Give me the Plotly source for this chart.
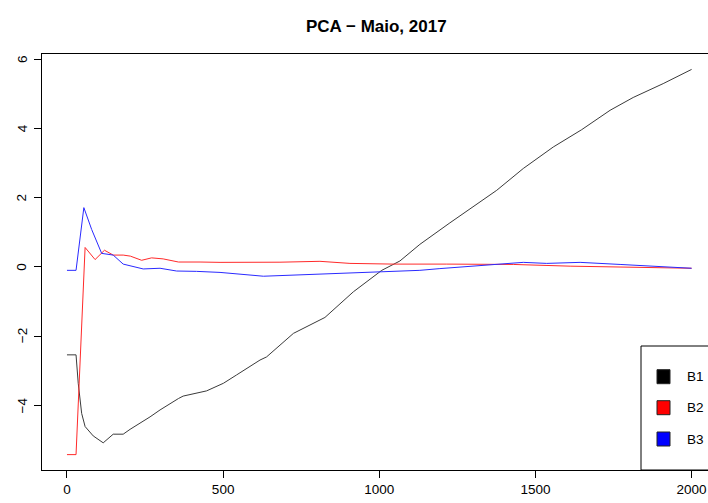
import plotly.graph_objects as go

# Data
b1_x = [0, 29, 36, 47, 58, 84, 116, 148, 180, 202, 266, 298, 357, 372, 447, 501, 543, 618, 639, 725, 826, 917, 1008, 1066, 1130, 1226, 1376, 1461, 1557, 1648, 1739, 1813, 1909, 2000]
b1_y = [-2.54, -2.54, -3.36, -4.23, -4.61, -4.88, -5.08, -4.83, -4.83, -4.69, -4.33, -4.13, -3.80, -3.73, -3.58, -3.36, -3.12, -2.69, -2.60, -1.92, -1.46, -0.72, -0.10, 0.17, 0.65, 1.27, 2.21, 2.84, 3.46, 3.96, 4.52, 4.89, 5.29, 5.70]

b2_x = [0, 29, 58, 90, 120, 148, 180, 203, 239, 271, 308, 357, 426, 490, 682, 810, 906, 1045, 1216, 1429, 1611, 1771, 2000]
b2_y = [-5.42, -5.42, 0.56, 0.21, 0.48, 0.34, 0.34, 0.31, 0.19, 0.26, 0.23, 0.14, 0.14, 0.13, 0.135, 0.16, 0.10, 0.08, 0.08, 0.07, 0.02, 0.0, -0.04]

b3_x = [0, 29, 54, 79, 111, 148, 180, 207, 244, 298, 351, 415, 490, 629, 810, 960, 1130, 1194, 1376, 1461, 1536, 1643, 1771, 2000]
b3_y = [-0.10, -0.10, 1.71, 1.08, 0.39, 0.34, 0.08, 0.03, -0.06, -0.04, -0.12, -0.13, -0.16, -0.27, -0.21, -0.17, -0.10, -0.05, 0.07, 0.13, 0.10, 0.13, 0.07, -0.04]

series_names = ["B1", "B2", "B3"]
series_colors = ["black", "red", "blue"]
line_colors = ["#3a3a3a", "#ff2a2a", "#2a2aff"]
x_ticks = [0, 500, 1000, 1500, 2000]
y_ticks = [-4, -2, 0, 2, 4, 6]
title_text = "PCA \u2212 Maio, 2017"

FONT = "Liberation Sans, Arial, sans-serif"
TICK_SIZE = 13.5

fig = go.Figure()
for xs, ys, name, col in zip([b1_x, b2_x, b3_x], [b1_y, b2_y, b3_y], series_names, line_colors):
    fig.add_trace(go.Scatter(x=xs, y=ys, mode="lines", name=name,
                             line=dict(color=col, width=1), showlegend=False))

W, H = 708, 503
ml, mr, mt, mb = 42, 0, 54, 33
pw = W - ml - mr
ph = H - mt - mb

def px_x(p):
    return (p - ml) / pw

def px_y(p):
    return (H - mb - p) / ph

shapes = []
annotations = []
# legend box
shapes.append(dict(type="rect", xref="paper", yref="paper",
                   x0=px_x(641), x1=1.05, y0=0, y1=px_y(346),
                   line=dict(color="black", width=1), fillcolor="white", layer="above"))
row_y = [376.7, 407.7, 439]
for name, col, ry in zip(series_names, series_colors, row_y):
    shapes.append(dict(type="rect", xref="paper", yref="paper",
                       x0=px_x(657), x1=px_x(670), y0=px_y(ry + 7), y1=px_y(ry - 7),
                       line=dict(color="#222", width=1), fillcolor=col, layer="above"))
    annotations.append(dict(xref="paper", yref="paper", x=px_x(685), y=px_y(ry),
                            text=name, showarrow=False, xanchor="left", yanchor="middle",
                            font=dict(family=FONT, size=TICK_SIZE, color="black")))

# rotated y tick labels (R style)
for v in y_ticks:
    annotations.append(dict(xref="paper", yref="y", x=px_x(22), y=v,
                            text=str(v).replace("-", "\u2212"), showarrow=False,
                            textangle=-90, xanchor="center", yanchor="middle",
                            font=dict(family=FONT, size=TICK_SIZE, color="black")))

annotations.append(dict(xref="paper", yref="paper", x=px_x(376), y=px_y(27),
                        text="<b>" + title_text + "</b>", showarrow=False,
                        xanchor="center", yanchor="middle",
                        font=dict(family=FONT, size=17, color="black")))

fig.update_layout(
    width=W, height=H,
    margin=dict(l=ml, r=mr, t=mt, b=mb),
    paper_bgcolor="white", plot_bgcolor="white",
    shapes=shapes, annotations=annotations,
    font=dict(family=FONT, size=TICK_SIZE, color="black"),
    xaxis=dict(range=[-80, 2052.5], tickvals=x_ticks, ticktext=[str(v) for v in x_ticks],
               showgrid=False, zeroline=False, showline=True, linecolor="black", linewidth=1,
               mirror=True, ticks="outside", ticklen=7, tickcolor="black", tickwidth=1,
               tickfont=dict(family=FONT, size=TICK_SIZE, color="black")),
    yaxis=dict(range=[-5.864, 6.145], tickvals=y_ticks, showticklabels=False,
               showgrid=False, zeroline=False, showline=True, linecolor="black", linewidth=1,
               mirror=False, ticks="outside", ticklen=7, tickcolor="black", tickwidth=1),
)

fig.write_html("out.html")
